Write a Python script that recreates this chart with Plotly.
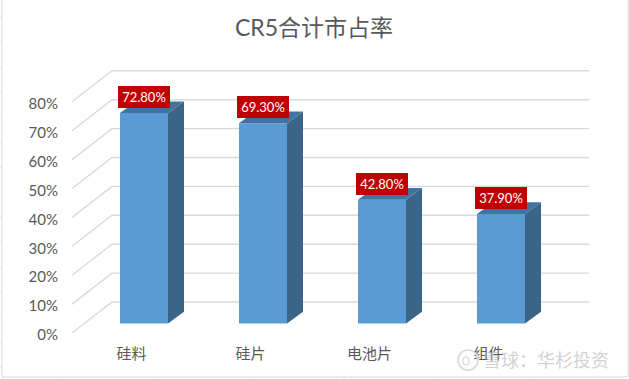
import plotly.graph_objects as go

categories = ["硅料", "硅片", "电池片", "组件"]
shares = [72.8, 69.3, 42.8, 37.9]
y_ticks = [0, 10, 20, 30, 40, 50, 60, 70, 80]
title_text = "CR5合计市占率"
watermark = "雪球：华杉投资"

W, H = 629, 379
# plot area in pixels
L, R, T, B = 59, 604, 50, 333
PX_PER_PCT = 2.89
PX_PER_CAT = 119.0
X0_PX = 144.0  # pixel centre of the first bar

x_range = [(L - X0_PX) / PX_PER_CAT, (R - X0_PX) / PX_PER_CAT]
y_range = [0, (B - T) / PX_PER_PCT]

bar_w = 48 / PX_PER_CAT
base = 9.5 / PX_PER_PCT                # bar plane above the front floor edge
ddx, ddy = 16 / PX_PER_CAT, 11.7 / PX_PER_PCT   # bar depth
wall_dx, wall_dy = 40 / PX_PER_CAT, 31 / PX_PER_PCT
wall_x = (72 - X0_PX) / PX_PER_CAT
end_x = (589 - X0_PX) / PX_PER_CAT
label_shift = -12.5 / PX_PER_CAT

FONT = "Lato, 'Noto Sans CJK SC', sans-serif"
TXT = "#595959"


def px(x):
    return (x - L) / (R - L)


def py(y):
    return (B - y) / (B - T)


shapes = []
# gridlines sit below the bars: slanted side wall then back wall
for t in y_ticks:
    shapes.append(dict(type="path", xref="x", yref="y", layer="below",
                       path=f"M {wall_x} {t} L {wall_x + wall_dx} {t + wall_dy} L {end_x} {t + wall_dy}",
                       line=dict(color="#D9D9D9", width=1.4)))

# surrounding sheet frame
FRAME = "#D9D9D9"
shapes.append(dict(type="rect", xref="paper", yref="paper", layer="below",
                   x0=px(2), x1=px(628), y0=py(377), y1=py(-5),
                   line=dict(color=FRAME, width=1)))
for yy in range(17, 370, 25):
    shapes.append(dict(type="line", xref="paper", yref="paper", layer="below",
                       x0=px(0), x1=px(2), y0=py(yy), y1=py(yy),
                       line=dict(color="#E4E4E4", width=1)))
for xx in range(62, 620, 94):
    shapes.append(dict(type="line", xref="paper", yref="paper", layer="below",
                       x0=px(xx), x1=px(xx), y0=py(377), y1=py(379),
                       line=dict(color="#E4E4E4", width=1)))
# watermark logo
shapes.append(dict(type="circle", xref="paper", yref="paper", layer="above",
                   x0=px(458), x1=px(478), y0=py(370), y1=py(350),
                   line=dict(color="#D8D8D8", width=1.6)))
shapes.append(dict(type="circle", xref="paper", yref="paper", layer="above",
                   x0=px(463), x1=px(469), y0=py(365), y1=py(357),
                   line=dict(color="#D8D8D8", width=1.2)))

fig = go.Figure()
idx = list(range(len(categories)))

fig.add_trace(go.Bar(
    x=idx, y=shares, base=[base] * len(shares), width=bar_w,
    marker=dict(color="#5B9BD5", line=dict(width=0)),
    hoverinfo="skip", showlegend=False))

for i, v in zip(idx, shares):
    x0, x1 = i - bar_w / 2, i + bar_w / 2
    top = base + v
    fig.add_trace(go.Scatter(
        x=[x1, x1 + ddx, x1 + ddx, x1, x1],
        y=[base, base + ddy, top + ddy, top, base],
        mode="lines", fill="toself", fillcolor="#3A6589",
        line=dict(width=0, color="#3A6589"), hoverinfo="skip", showlegend=False))
    fig.add_trace(go.Scatter(
        x=[x0, x1, x1 + ddx, x0 + ddx, x0],
        y=[top, top, top + ddy, top + ddy, top],
        mode="lines", fill="toself", fillcolor="#44729F",
        line=dict(width=0, color="#44729F"), hoverinfo="skip", showlegend=False))
    fig.add_annotation(
        x=i, y=top, xref="x", yref="y", yanchor="bottom", yshift=5,
        text=f"{v:.2f}%", showarrow=False, bgcolor="#C00000",
        width=52, height=22, borderpad=0, borderwidth=0, align="center", valign="middle",
        font=dict(family=FONT, size=13, color="#FFFFFF"))

# watermark
fig.add_annotation(
    xref="paper", yref="paper", x=px(546), y=py(360), xanchor="center", yanchor="middle",
    text=watermark, showarrow=False, opacity=0.6,
    font=dict(family=FONT, size=18, color="#B5B5B5"))

fig.update_layout(
    width=W, height=H, autosize=False,
    margin=dict(l=L, r=W - R, t=T, b=H - B, pad=0),
    paper_bgcolor="#FFFFFF", plot_bgcolor="rgba(0,0,0,0)",
    font=dict(family=FONT, color=TXT),
    title=dict(text=title_text, x=314 / W, xanchor="center", y=1 - 27.5 / H, yanchor="middle",
               font=dict(family=FONT, size=23, color=TXT)),
    showlegend=False,
    xaxis=dict(range=x_range, showgrid=False, zeroline=False, showline=False,
               tickmode="array", tickvals=[i + label_shift for i in idx], ticktext=categories,
               ticks="outside", ticklen=7, tickcolor="rgba(0,0,0,0)",
               tickfont=dict(family=FONT, size=15, color=TXT), fixedrange=True),
    yaxis=dict(range=y_range, showgrid=False, zeroline=False, showline=False,
               tickmode="array", tickvals=y_ticks, ticktext=[f"{t}%" for t in y_ticks],
               ticks="", ticklabelshift=2,
               tickfont=dict(family=FONT, size=15, color=TXT), fixedrange=True),
    shapes=shapes,
)

fig.write_html("out.html", config={"displayModeBar": False},
               post_script="document.body.style.margin='0';document.body.style.overflow='hidden';")
